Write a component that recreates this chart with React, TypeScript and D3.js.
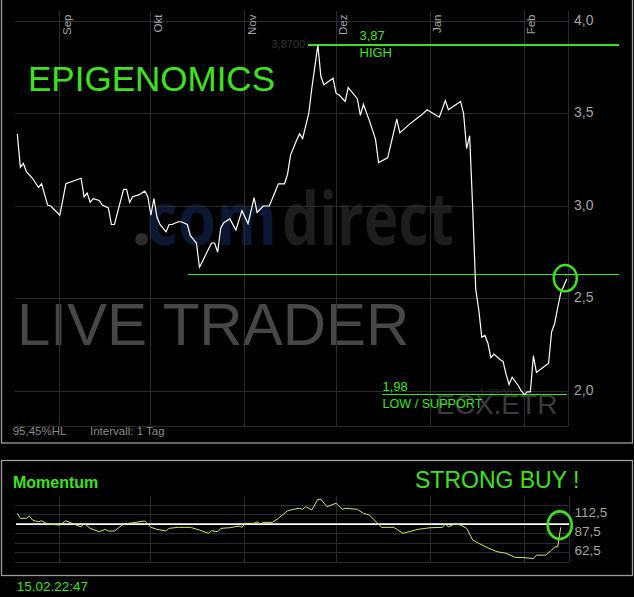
import React from "react";
import * as d3 from "d3";

// ---------- data ----------
const priceDates = [
  "2010-08-18","2010-08-19","2010-08-20","2010-08-21","2010-08-23","2010-08-25","2010-08-26","2010-08-28","2010-08-29",
  "2010-09-01","2010-09-03","2010-09-08","2010-09-09","2010-09-10","2010-09-11","2010-09-12","2010-09-14","2010-09-15",
  "2010-09-17","2010-09-18","2010-09-19","2010-09-22","2010-09-23","2010-09-24","2010-09-25","2010-09-27","2010-09-29",
  "2010-09-30","2010-10-01","2010-10-02","2010-10-03","2010-10-04","2010-10-06","2010-10-07","2010-10-08","2010-10-10",
  "2010-10-11","2010-10-13","2010-10-14","2010-10-16","2010-10-17","2010-10-18","2010-10-19","2010-10-21","2010-10-22",
  "2010-10-23","2010-10-24","2010-10-25","2010-10-27","2010-10-29","2010-10-31","2010-11-02","2010-11-04","2010-11-05",
  "2010-11-07","2010-11-09","2010-11-11","2010-11-12","2010-11-14","2010-11-15","2010-11-16","2010-11-18","2010-11-19",
  "2010-11-20","2010-11-22","2010-11-23","2010-11-25","2010-11-26","2010-11-27","2010-11-30","2010-12-01","2010-12-02",
  "2010-12-04","2010-12-05","2010-12-08","2010-12-09","2010-12-10","2010-12-12","2010-12-14","2010-12-15","2010-12-18",
  "2010-12-21","2010-12-22","2010-12-25","2010-12-29","2010-12-31","2011-01-04","2011-01-06","2011-01-07","2011-01-11",
  "2011-01-12","2011-01-13","2011-01-14","2011-01-15","2011-01-16","2011-01-17","2011-01-18","2011-01-19","2011-01-20",
  "2011-01-21","2011-01-22","2011-01-24","2011-01-25","2011-01-26","2011-01-27","2011-01-28","2011-01-30","2011-01-31",
  "2011-02-01","2011-02-02","2011-02-03","2011-02-04","2011-02-05","2011-02-09","2011-02-10","2011-02-11","2011-02-12",
  "2011-02-13","2011-02-15"
];
const priceValues = [
  3.39,3.21,3.23,3.185,3.15,3.10,3.12,3.005,3.00,
  2.95,3.12,3.15,3.05,3.07,3.02,3.04,3.03,3.005,
  2.99,2.90,2.90,3.09,3.09,3.02,3.05,3.06,3.08,
  3.05,2.95,3.04,2.94,2.90,2.86,2.90,2.90,2.915,
  2.915,2.90,2.84,2.80,2.67,2.70,2.735,2.80,2.80,
  2.75,2.88,2.91,2.93,2.87,2.975,2.905,3.045,2.965,
  3.00,3.00,3.08,3.12,3.12,3.17,3.275,3.355,3.39,
  3.365,3.50,3.635,3.87,3.70,3.655,3.69,3.61,3.60,
  3.565,3.64,3.58,3.49,3.55,3.46,3.36,3.235,3.26,
  3.47,3.395,3.44,3.49,3.52,3.48,3.57,3.52,3.565,
  3.50,3.31,3.38,2.99,2.55,2.44,2.29,2.30,2.26,
  2.18,2.20,2.17,2.16,2.09,2.035,2.075,2.03,2.00,
  1.98,1.995,1.995,2.19,2.10,2.15,2.32,2.365,2.45,
  2.53,2.605
];

const momDates = [
  "2010-08-18","2010-08-19","2010-08-21","2010-08-22","2010-08-23","2010-08-24","2010-08-25","2010-08-26","2010-08-28",
  "2010-09-01","2010-09-03","2010-09-05","2010-09-08","2010-09-09","2010-09-11","2010-09-14","2010-09-16","2010-09-17",
  "2010-09-19","2010-09-22","2010-09-25","2010-09-29","2010-10-01","2010-10-03","2010-10-06","2010-10-07","2010-10-10",
  "2010-10-14","2010-10-17","2010-10-20","2010-10-21","2010-10-23","2010-10-24","2010-10-27","2010-10-30","2010-10-31",
  "2010-11-01","2010-11-04","2010-11-05","2010-11-06","2010-11-07","2010-11-10","2010-11-12","2010-11-15","2010-11-17",
  "2010-11-19","2010-11-20","2010-11-21","2010-11-23","2010-11-25","2010-11-26","2010-11-28","2010-12-01","2010-12-03",
  "2010-12-04","2010-12-08","2010-12-10","2010-12-12","2010-12-16","2010-12-20","2010-12-23","2010-12-28","2011-01-01",
  "2011-01-05","2011-01-06","2011-01-07","2011-01-09","2011-01-11","2011-01-13","2011-01-15","2011-01-17","2011-01-20",
  "2011-01-23","2011-01-26","2011-01-29","2011-01-31","2011-02-04","2011-02-05","2011-02-08","2011-02-10","2011-02-11",
  "2011-02-12","2011-02-13"
];
const momValues = [
  114.1,107.6,107.6,110.6,105.4,104.1,103.1,104.4,100.1,
  98.8,104.4,101.0,96.5,101.0,94.5,90.1,93.2,91.0,
  91.0,100.1,101.8,104.1,95.8,93.2,91.0,94.5,95.8,
  95.8,92.3,88.0,91.4,90.1,94.5,95.3,97.5,95.8,
  101.0,101.0,103.1,100.1,102.3,102.3,107.6,117.5,119.4,
  120.7,119.4,122.8,118.5,132.4,132.4,122.8,127.3,119.4,
  120.7,119.4,114.1,111.8,95.8,95.8,88.0,93.2,95.3,
  95.8,100.1,96.5,100.1,98.8,94.5,79.2,74.9,69.1,
  64.0,61.9,56.5,56.5,55.1,59.5,59.5,65.9,70.3,
  70.3,95.8
];

const monthDates = ["2010-09-01","2010-10-01","2010-11-01","2010-12-01","2011-01-01","2011-02-01"];
const monthLabels = ["Sep","Okt","Nov","Dez","Jan","Feb"];
const priceTicks = [2.0, 2.5, 3.0, 3.5, 4.0];
const momGridValues = [50, 62.5, 75, 87.5, 112.5, 125];
const momTicks = [62.5, 87.5, 112.5];
const momBase = 100;
const highValue = 3.87;
const lowValue = 1.98;
const resistanceValue = 2.63;
const domainStart = "2010-08-18";
const domainEnd = "2011-02-15";

// ---------- styles ----------
const GREEN = "#3de31b";
const GRID = "#2b2b2b";
const AXIS_TXT = "#a3a3a3";
const FONT = "'Liberation Sans', Arial, sans-serif";

const parse = d3.timeParse("%Y-%m-%d");
const comma = (v: number, f: string) => d3.format(f)(v).replace(".", ",");

export default function App() {
  const W = 634, H = 597;
  // main plot area
  const left = 15, right = 568, top = 11, bottom = 426;
  // momentum plot area
  const mTop = 496, mBottom = 562.4, mRight = 569;

  const x = d3.scaleTime()
    .domain([parse(domainStart)!, parse(domainEnd)!])
    .range([17.3, 566.8]);
  const y = d3.scaleLinear().domain([2, 4]).range([391, 21]);
  const ym = d3.scaleLinear().domain([50, 125]).range([562.4, 505]);

  const price = priceDates.map((d, i) => [parse(d)!, priceValues[i]] as [Date, number]);
  const mom = momDates.map((d, i) => [parse(d)!, momValues[i]] as [Date, number]);

  const priceLine = d3.line<[Date, number]>().x(d => x(d[0])).y(d => y(d[1]))(price) || "";
  const momLine = d3.line<[Date, number]>().x(d => x(d[0])).y(d => ym(d[1]))(mom) || "";

  const months = monthDates.map(d => parse(d)!);
  const lastP = price[price.length - 1];
  const lastM = mom[mom.length - 1];

  return (
    <svg width={W} height={H} style={{ position: "absolute", left: 0, top: 0, display: "block" }}
      fontFamily={FONT}>
      <rect x={0} y={0} width={W} height={H} fill="#000" />

      {/* watermark */}
      <text x={131} y={245} fontFamily="'Open Sans', sans-serif" fontWeight={700} fontSize={74} fill="#2d2d2d">.</text>
      <text x={146} y={245} fontFamily="'Open Sans', sans-serif" fontWeight={700} fontSize={74} fill="#0b1733"
        textLength={131} lengthAdjust="spacingAndGlyphs">com</text>
      <text x={282} y={245} fontFamily="'Open Sans', sans-serif" fontWeight={700} fontSize={74} fill="#1d1d1d"
        textLength={172} lengthAdjust="spacingAndGlyphs">direct</text>
      <text x={17} y={345} fontSize={60} fill="#474747">LIVE TRADER</text>
      <text x={436} y={414} fontSize={28} fill="#3a3a3a">ECX.ETR</text>

      {/* main grid */}
      <g shapeRendering="crispEdges" stroke={GRID} strokeWidth={1}>
        {priceTicks.map(t => <line key={"h" + t} x1={left} x2={right} y1={y(t)} y2={y(t)} />)}
        <line x1={left} x2={right} y1={bottom} y2={bottom} />
        {months.map((m, i) => <line key={"v" + i} x1={x(m)} x2={x(m)} y1={top} y2={bottom} />)}
        <line x1={right} x2={right} y1={top} y2={bottom} />
      </g>
      {months.map((m, i) => (
        <text key={"ml" + i} transform={`translate(${x(m) + 11},14.5) rotate(-90)`} textAnchor="end"
          fontSize={11.5} fill={AXIS_TXT}>{monthLabels[i]}</text>
      ))}
      {priceTicks.map(t => (
        <text key={"pl" + t} x={574} y={y(t) + 3.8} fontSize={14} fill={AXIS_TXT}>{comma(t, ".1f")}</text>
      ))}

      {/* annotations main */}
      <text x={271.5} y={48} fontSize={11} fill="#333">3,8700</text>
      <text x={479} y={397} fontSize={11} fill="#2c2c2c">1,9800</text>
      <g stroke={GREEN} strokeWidth={1.3} shapeRendering="crispEdges">
        <line x1={308} x2={619} y1={y(highValue)} y2={y(highValue)} />
        <line x1={188} x2={619} y1={y(resistanceValue)} y2={y(resistanceValue)} />
        <line x1={382} x2={567} y1={y(lowValue)} y2={y(lowValue)} />
      </g>
      <text x={359.5} y={39.5} fontSize={13} fill={GREEN}>{comma(highValue, ".2f")}</text>
      <text x={359.5} y={57} fontSize={13} fill={GREEN}>HIGH</text>
      <text x={382.5} y={390.5} fontSize={13} fill={GREEN}>{comma(lowValue, ".2f")}</text>
      <text x={382.5} y={407.5} fontSize={12.6} fill={GREEN}>LOW / SUPPORT</text>

      <path d={priceLine} fill="none" stroke="#fff" strokeWidth={1.2} strokeLinejoin="miter" />
      <ellipse cx={x(lastP[0]) - 1.5} cy={y(lastP[1]) - 1} rx={11.5} ry={13.2} fill="none" stroke={GREEN} strokeWidth={2.5} />

      <text x={28} y={90.5} fontSize={35} fill={GREEN}>EPIGENOMICS</text>
      <text x={12.7} y={435} fontSize={11.5} fill="#8a8a8a">95,45%HL</text>
      <text x={90} y={435} fontSize={11.5} fill="#8a8a8a">Intervall: 1 Tag</text>

      {/* main frame */}
      <rect x={1.5} y={-2} width={631} height={445} fill="none" stroke="#9c9c9c" strokeWidth={1.3} />

      {/* momentum panel */}
      <rect x={1.5} y={460.5} width={631} height={115} fill="none" stroke="#9c9c9c" strokeWidth={1.3} />
      <g shapeRendering="crispEdges" stroke={GRID} strokeWidth={1}>
        {momGridValues.map(t => <line key={"mh" + t} x1={left} x2={mRight} y1={ym(t)} y2={ym(t)} />)}
        {months.map((m, i) => <line key={"mv" + i} x1={x(m)} x2={x(m)} y1={mTop} y2={mBottom} />)}
        <line x1={mRight} x2={mRight} y1={mTop} y2={mBottom} />
      </g>
      {momTicks.map(t => (
        <text key={"mt" + t} x={574.5} y={ym(t) + 2.5} fontSize={13.5} fill={AXIS_TXT}>{comma(t, ".1f")}</text>
      ))}
      <line x1={left + 1} x2={mRight} y1={ym(momBase)} y2={ym(momBase)} stroke="#fff" strokeWidth={1.6} />
      <path d={momLine} fill="none" stroke="#c9ec5a" strokeWidth={1} />
      <ellipse cx={x(lastM[0]) - 1} cy={ym(momBase) + 1} rx={12} ry={13.8} fill="none" stroke={GREEN} strokeWidth={2.6} />

      <text x={13} y={488} fontSize={16} fontWeight={700} fill={GREEN}>Momentum</text>
      <text x={415} y={488.3} fontSize={23} fill={GREEN}>STRONG BUY !</text>
      <text x={16.7} y={590.7} fontSize={13.5} fill={GREEN}>15.02.22:47</text>
    </svg>
  );
}
